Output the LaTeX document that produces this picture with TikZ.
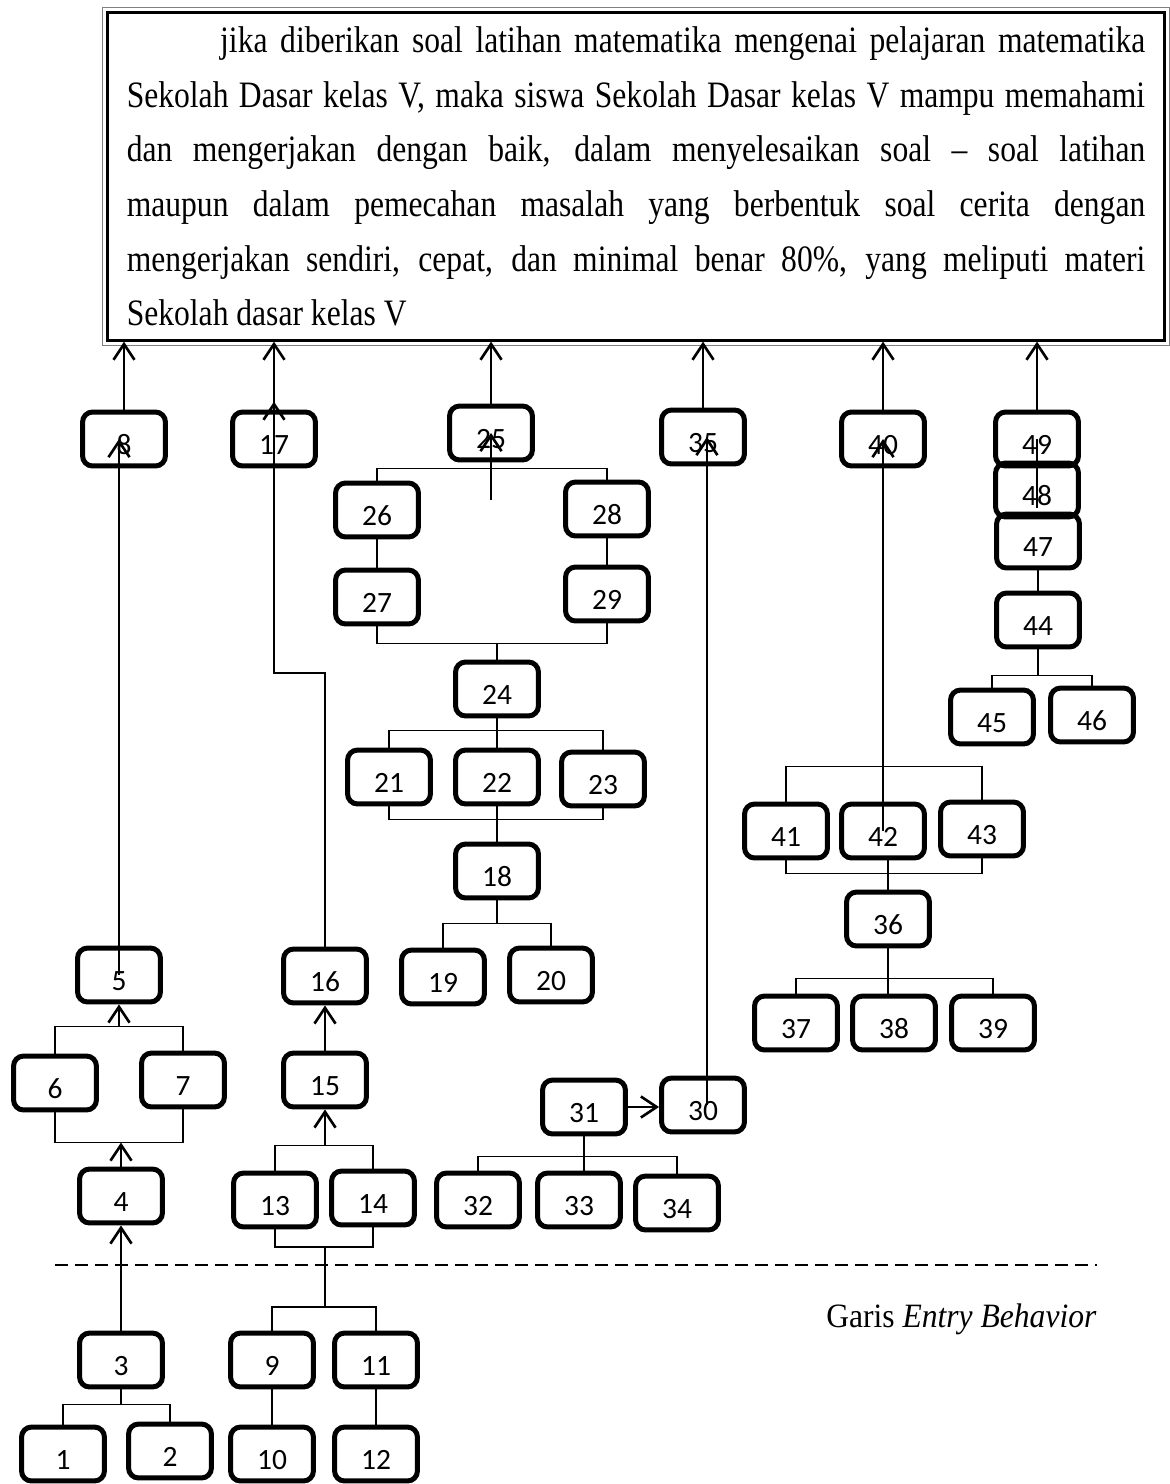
\documentclass[tikz,border=0pt]{standalone}
\usepackage{fontspec}
\usepackage{graphicx}
\setmainfont{Liberation Serif}
\newfontfamily\carlito{Carlito}
\usetikzlibrary{arrows.meta,calc}
\begin{document}
\begin{tikzpicture}[x=0.38pt,y=-0.38pt,
	box/.style={draw,line width=1.9pt,rounded corners=3.8pt,minimum width=31.5pt,minimum height=20.5pt,inner sep=0pt,text height=11.5pt,text depth=0pt,font=\carlito\fontsize{11.2}{12}\selectfont},
	goal/.style={draw,line width=1.1pt,minimum width=401.5pt,minimum height=124.4pt,inner sep=0pt,text width=387pt,align=justify},
	link/.style={line width=0.7pt},
	arr/.style={line width=1pt,-{Straight Barb[length=6pt,width=8pt]}}]
			\useasboundingbox (0,0) rectangle (1169,1484);
			% tujuan
			\node[goal] (goal) at (636,176.5) {\scalebox{1}[1.18]{\parbox{387pt}{\rightskip=0pt\parfillskip=0pt plus 1fil\fontsize{12}{17.6}\selectfont\hyphenpenalty=10000\hspace*{35.5pt}jika diberikan soal latihan matematika mengenai pelajaran matematika\linebreak Sekolah Dasar kelas V, maka siswa Sekolah Dasar kelas V mampu memahami\linebreak dan mengerjakan dengan baik, dalam menyelesaikan soal -- soal latihan\linebreak maupun dalam pemecahan masalah yang berbentuk soal cerita dengan\linebreak mengerjakan sendiri, cepat, dan minimal benar 80\%, yang meliputi materi\linebreak Sekolah dasar kelas V}}};
			\draw[gray,line width=0.6pt] ([shift={(-1.4pt,1.4pt)}]goal.north west) rectangle ([shift={(1.4pt,-1.4pt)}]goal.south east);
			% kotak
			\foreach \n/\x/\y in {1/63/1454,2/170/1451,3/121/1360,4/121/1196,5/119/975,6/55/1083,7/183/1080,8/124/439,
				9/272/1360,10/272/1454,11/376/1360,12/376/1454,13/275/1200,14/373/1198,15/325/1080,16/325/976,17/274/439,
				18/497/871,19/443/977,20/551/975,21/389/777,22/497/777,23/603/779,24/497/689,25/491/433,26/377/510,27/377/597,28/607/509,29/607/594,
				30/703/1105,31/584/1107,32/478/1200,33/579/1200,34/677/1203,35/703/437,
				36/888/919,37/796/1023,38/894/1023,39/993/1023,40/883/439,41/786/831,42/883/831,43/982/829,
				44/1038/620,45/992/717,46/1092/715,47/1038/541,48/1037/490,49/1037/439}
			\node[box] (b\n) at (\x,\y) {\n};
			% ke tujuan
			\foreach \b in {b8,b17,b25,b35,b40,b49}
			\draw[arr] (\b.north) -- (\b.north |- goal.south);
			% 1 - 8
			\draw[link] (b3.south) -- ++(0,15) coordinate (j3);
			\draw[link] (b1.north) |- (j3) -| (b2.north);
			\draw[arr] (b3.north) -- (b4.south);
			\draw[arr] (b4.north) -- ++(0,-24) coordinate (j67);
			\draw[link] (b6.south) |- (j67) -| (b7.south);
			\path (b5.south) ++(0,22) coordinate (j5);
			\draw[link] (b6.north) |- (j5) -| (b7.north);
			\draw[arr] (j5) -- (b5.south);
			\draw[arr] (b5.center) -- (b5.center |- b8.center);
			% 9 - 17
			\draw[link] (b10.north) -- (b9.south);
			\draw[link] (b12.north) -- (b11.south);
			\coordinate (j13) at (325,1247);
			\coordinate (j9) at (325,1307);
			\draw[link] (b9.north) |- (j9) -| (b11.north);
			\draw[link] (j9) -- (j13);
			\draw[link] (b13.south) |- (j13) -| (b14.south);
			\path (b15.south) ++(0,36) coordinate (j15);
			\draw[link] (b13.north) |- (j15) -| (b14.north);
			\draw[arr] (j15) -- (b15.south);
			\draw[arr] (b15.north) -- (b16.south);
			\draw[arr] (b16.north) |- (b17.north |- 0,673) -- ([yshift=3pt]b17.north);
			% 18 - 29
			\draw[link] (b18.south) -- ++(0,23) coordinate (j18);
			\draw[link] (b19.north) |- (j18) -| (b20.north);
			\path (b18.north) ++(0,-22) coordinate (k18);
			\draw[link] (b21.south) |- (k18) -| (b23.south);
			\draw[link] (b22.south) -- (b18.north);
			\path (b24.south) ++(0,12) coordinate (j24);
			\draw[link] (b21.north) |- (j24) -| (b23.north);
			\draw[link] (b24.south) -- (b22.north);
			\path (b24.north) ++(0,-16) coordinate (k24);
			\draw[link] (b27.south) |- (k24) -| (b29.south);
			\draw[link] (k24) -- (b24.north);
			\draw[link] (b26.south) -- (b27.north);
			\draw[link] (b28.south) -- (b29.north);
			\path (b25.south) ++(0,6) coordinate (j25);
			\draw[link] (b26.north) |- (j25) -| (b28.north);
			\coordinate (s25) at (491,500);
			\draw[arr] (s25) -- (b25.center);
			% 30 - 35
			\draw[link] (b31.south) -- (b31.south |- b33.north);
			\path (b31.south) ++(0,20) coordinate (j31);
			\draw[link] (b32.north) |- (j31) -| (b34.north);
			\draw[arr] (b31.east) -- (b31.east -| b30.west);
			\draw[arr] ([xshift=1.5pt]b30.center) -- ([xshift=1.5pt]b35.center);
			% 36 - 43
			\draw[link] (b36.south) -- (b36.south |- b38.north);
			\path (b36.south) ++(0,30) coordinate (j36);
			\draw[link] (b37.north) |- (j36) -| (b39.north);
			\path (b36.north) ++(0,-16) coordinate (k36);
			\draw[link] (b41.south) |- (k36) -| (b43.south);
			\draw[link] (b36.north |- b42.south) -- (b36.north);
			\path (b42.north) ++(0,-35) coordinate (k42);
			\draw[link] (b41.north) |- (k42) -| (b43.north);
			\draw[arr] (b42.center) -- (b40.center);
			% 44 - 49
			\draw[link] (b44.south) -- ++(0,26) coordinate (j44);
			\draw[link] (b45.north) |- (j44) -| (b46.north);
			\draw[link] (b47.south) -- (b44.north);
			\draw[line width=1pt] ([yshift=-6.8pt]b48.center) -- (b49.center);
			% garis entry behavior
			\draw[line width=0.76pt,dash pattern=on 4.9pt off 2.7pt] (55,1265) -- (1097,1265);
			\node[anchor=base east,font=\fontsize{12}{14}\selectfont,inner sep=0pt] (garis) at (1097,1327) {\scalebox{1}[1.08]{Garis \textit{Entry Behavior}}};
\end{tikzpicture}
\end{document}
